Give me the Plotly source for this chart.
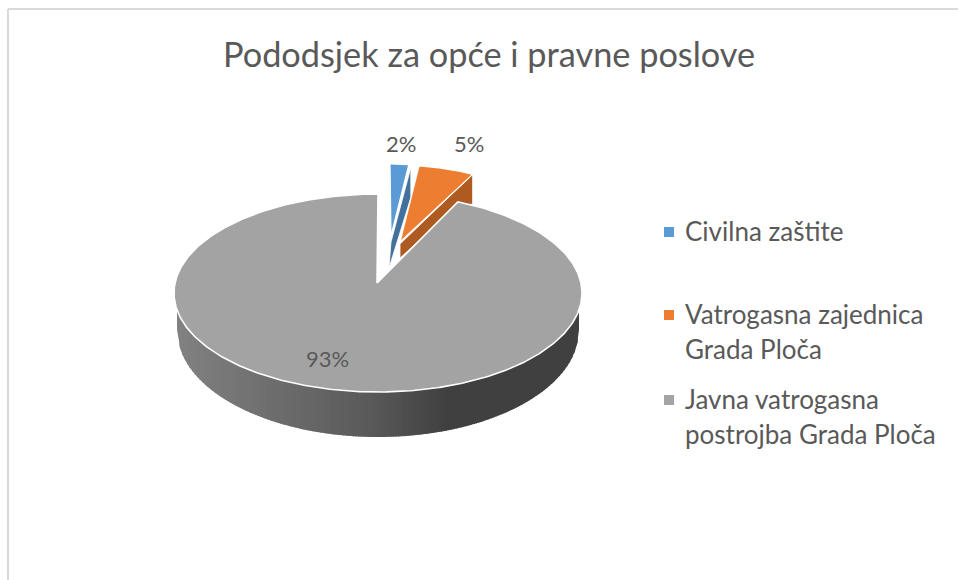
import numpy as np
import plotly.graph_objects as go

TITLE = "Pododsjek za opće i pravne poslove"
categories = ["Civilna zaštite", "Vatrogasna zajednica<br>Grada Ploča", "Javna vatrogasna<br>postrojba Grada Ploča"]
values = [2, 5, 93]
top_colors = ["#5b9bd5", "#ed7d31", "#a3a3a3"]
wall_colors = ["#41719c", "#ae5a21"]

FONT = "Lato, Carlito, sans-serif"
TEXT = "#595959"

# projected geometry of each exploded slice (cx, cy, rx, ry, apex x, apex y)
GEOM = [
    (390, 262, 150, 98, 391, 236),
    (396, 263, 180, 98, 400, 242),
    (378, 293, 204, 99, 377, 283),
]
WALL = [(2, 3, 30, 26), (0, 0, 30, 14)]  # wall outer dx, dy0, outer depth, apex depth
PERSPECTIVE_SKEW = 0.006  # the 3D view pulls the large slice's near edge towards the top

cum = np.cumsum([0] + values) / sum(values)
fig = go.Figure()


def arc(start, end, g, n=120):
    cx, cy, rx, ry, _, _ = g
    t = 2 * np.pi * np.linspace(start, end, n)
    return cx + rx * np.sin(t), cy - ry * np.cos(t)


def poly(x, y, fill, line="white", width=1.2):
    fig.add_trace(go.Scatter(x=list(x), y=list(y), mode="lines", fill="toself", fillcolor=fill,
                             line=dict(color=line, width=width), showlegend=False, hoverinfo="skip"))


# small slices: side wall first, then the top face
for i in range(2):
    g = GEOM[i]
    ex, ey = arc(cum[i + 1], cum[i + 1], g, 1)
    dx, dy0, d_out, d_apex = WALL[i]
    ax, ay = g[4], g[5]
    if dx:
        wx = [ex[0] + dx, ax, ax - 2, ex[0] + dx, ex[0] + dx]
        wy = [ey[0] + dy0, ay + 6, ay + 6 + d_apex, ey[0] + dy0 + d_out, ey[0] + dy0]
    else:
        wx = [ex[0], ax, ax, ex[0] - 13, ex[0], ex[0]]
        wy = [ey[0], ay + 2, ay + 2 + d_apex, ey[0] + d_out, ey[0] + d_out, ey[0]]
    poly(wx, wy, wall_colors[i], width=0.8)
    x, y = arc(cum[i], cum[i + 1], g)
    poly(np.r_[ax, x, ax], np.r_[ay, y, ay], top_colors[i])

# large slice: rim with a horizontal shading, then the top face
g = GEOM[2]
bcx, bcy, brx, bry = 378, 330, 201, 107
edges = np.linspace(bcx - brx, bcx + brx, 161)
stops_x = [177, 370, 450, 579]
stops_v = [0x82, 0x5a, 0x40, 0x40]
for a, b in zip(edges[:-1], edges[1:]):
    b2 = min(b + 1.2, bcx + brx)
    ub = np.clip((np.array([a, b2]) - bcx) / brx, -1, 1)
    yb = bcy + bry * np.sqrt(1 - ub ** 2)
    v = int(np.interp((a + b) / 2, stops_x, stops_v))
    c = f"rgb({v},{v},{v})"
    poly([a, b2, b2, a, a], [g[1], g[1], yb[1], yb[0], g[1]], c, line=c, width=0)

x, y = arc(cum[2] - PERSPECTIVE_SKEW, cum[3], g, 400)
poly(np.r_[g[4], x, g[4]], np.r_[g[5], y, g[5]], top_colors[2], width=1.6)

# data labels
label_pos = [(401, 143), (469, 143), (327, 358)]
annotations = [dict(x=p[0], y=p[1], text=f"{v}%", showarrow=False, xref="x", yref="y",
                    font=dict(family=FONT, size=22, color=TEXT))
               for v, p in zip(values, label_pos)]

# legend
legend_x, legend_text_x = 669, 683
legend_y = [232, 315, 400]
line_h = 35
fig.add_trace(go.Scatter(x=[legend_x] * 3, y=legend_y, mode="markers",
                         marker=dict(symbol="square", size=10, color=top_colors),
                         showlegend=False, hoverinfo="skip"))
for name, ly in zip(categories, legend_y):
    for k, part in enumerate(name.split("<br>")):
        annotations.append(dict(x=legend_text_x, y=ly - 1 + k * line_h, text=part, showarrow=False,
                                xanchor="left", xref="x", yref="y",
                                font=dict(family=FONT, size=26, color=TEXT)))

annotations.append(dict(x=489, y=53, text=TITLE, showarrow=False, xref="x", yref="y",
                        font=dict(family=FONT, size=34.3, color=TEXT)))

frame = [dict(type="line", xref="x", yref="y", x0=8, y0=580, x1=8, y1=9, line=dict(color="#d9d9d9", width=2)),
         dict(type="line", xref="x", yref="y", x0=8, y0=9, x1=958, y1=9, line=dict(color="#d9d9d9", width=2))]

fig.update_layout(width=958, height=580, margin=dict(l=0, r=0, t=0, b=0),
                  paper_bgcolor="white", plot_bgcolor="white", showlegend=False,
                  annotations=annotations, shapes=frame,
                  xaxis=dict(range=[0, 958], visible=False, fixedrange=True),
                  yaxis=dict(range=[580, 0], visible=False, fixedrange=True))
fig.write_html("out.html", config={"displayModeBar": False},
               post_script="document.body.style.margin='0';document.body.style.overflow='hidden';")
